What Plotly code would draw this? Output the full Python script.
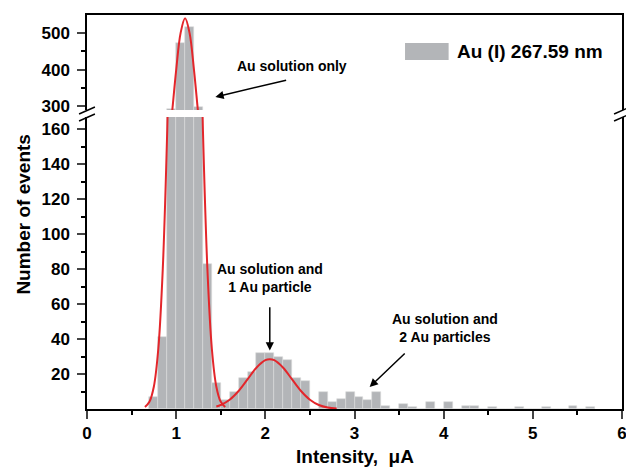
import plotly.graph_objects as go

# ---- data ----
bin_centers = [0.75, 0.85, 0.95, 1.05, 1.15, 1.25, 1.35, 1.45, 1.55, 1.65,
               1.75, 1.85, 1.95, 2.05, 2.15, 2.25, 2.35, 2.45, 2.55, 2.65,
               2.75, 2.85, 2.95, 3.05, 3.15, 3.25, 3.35, 3.45, 3.55, 3.65,
               3.75, 3.85, 3.95, 4.05, 4.15, 4.25, 4.35, 4.45, 4.55, 4.65,
               4.75, 4.85, 4.95, 5.05, 5.15, 5.25, 5.35, 5.45, 5.55, 5.65]
counts = [7, 41, 292, 473, 518, 298, 83, 15, 5, 10,
          18, 21, 32, 32, 30, 28, 18, 16, 0, 10,
          4, 6, 10, 7, 5, 10, 2, 0, 3, 1,
          0, 4, 0, 4, 0, 2, 2, 0, 1, 0,
          0, 1, 0, 0, 1, 0, 0, 2, 0, 1]

fit1_x = [0.65, 0.70, 0.75, 0.80, 0.85, 0.90, 0.95, 1.00, 1.05, 1.10,
          1.15, 1.20, 1.25, 1.30, 1.35, 1.40, 1.45, 1.50, 1.55]
fit1_y = [1.1, 4.1, 12.9, 34.6, 80.3, 159.6, 272.3, 398.8, 501, 541,
          501, 398.8, 272.3, 159.6, 80.3, 34.6, 12.9, 4.1, 1.1]

fit2_x = [1.45, 1.50, 1.60, 1.70, 1.80, 1.90, 2.00, 2.05, 2.10, 2.20,
          2.30, 2.40, 2.50, 2.60, 2.70, 2.80]
fit2_y = [1.4, 2.3, 5.3, 10.3, 16.9, 23.6, 27.9, 28.5, 27.9, 23.6,
          16.9, 10.3, 5.3, 2.3, 0.84, 0.25]

x_ticks = [0, 1, 2, 3, 4, 5, 6]
y_low_ticks = [20, 40, 60, 80, 100, 120, 140, 160]
y_up_ticks = [300, 400, 500]
legend_label = "Au (I) 267.59 nm"

# ---- styling ----
BAR = "#b3b5b8"
RED = "#e3262b"
FONT = "Liberation Sans, Arial, sans-serif"

OFF = 8                      # page body margin
SW, SH = 634, 467            # screenshot size
W, H = SW - OFF, SH - OFF    # figure size
PL, PR, PT, PB = 87, 627, 15, 409   # plot area in screenshot pixels
L, R, T, B = PL - OFF, SW - PR, PT - OFF, SH - PB
PW, PH = PR - PL, PB - PT
low_top_px = 117
up_bot_px = 110


def py(ypx):
    return (PB - ypx) / PH


def px(xpx):
    return (xpx - PL) / PW


fig = go.Figure()

for ya, xa in (("y", "x"), ("y2", "x2")):
    fig.add_trace(go.Bar(x=bin_centers, y=counts, width=0.1,
                         marker=dict(color=BAR, line=dict(color="#dcdcdc", width=0.6)),
                         name=legend_label, showlegend=False,
                         xaxis=xa, yaxis=ya))
    fig.add_trace(go.Scatter(x=fit1_x, y=fit1_y, mode="lines",
                             line=dict(color=RED, width=2, shape="spline"),
                             showlegend=False, xaxis=xa, yaxis=ya))
fig.add_trace(go.Scatter(x=fit2_x, y=fit2_y, mode="lines",
                         line=dict(color=RED, width=2, shape="spline"),
                         showlegend=False, xaxis="x", yaxis="y"))

tickfont = dict(family=FONT, size=17, color="black", weight="bold")
axline = dict(showline=True, linecolor="black", linewidth=1.5, showgrid=False,
              zeroline=False)

fig.update_layout(
    width=W, height=H, margin=dict(l=L, r=R, t=T, b=B),
    paper_bgcolor="white", plot_bgcolor="white",
    bargap=0, barmode="overlay", showlegend=False,
    xaxis=dict(domain=[0, 1], range=[0, 6], anchor="y", tickmode="array",
               tickvals=x_ticks, ticks="outside", ticklen=8, tickwidth=1.5,
               tickfont=tickfont, mirror=False,
               minor=dict(tickvals=[0.5, 1.5, 2.5, 3.5, 4.5, 5.5], ticks="outside",
                          ticklen=4, tickwidth=1.5, tickcolor="black"),
               **axline),
    xaxis2=dict(domain=[0, 1], range=[0, 6], anchor="y2", matches="x", side="top",
                showticklabels=False, ticks="", **axline),
    yaxis=dict(domain=[0, py(low_top_px)], range=[0, 167], anchor="x",
               tickmode="array", tickvals=y_low_ticks, ticks="outside", ticklen=8,
               tickwidth=1.5, tickfont=tickfont, mirror=True, ticklabelstandoff=4,
               minor=dict(tickvals=[10, 30, 50, 70, 90, 110, 130, 150], ticks="outside",
                          ticklen=4, tickwidth=1.5, tickcolor="black"),
               **axline),
    yaxis2=dict(domain=[py(up_bot_px), 1], range=[289, 550], anchor="x2",
                tickmode="array", tickvals=y_up_ticks, ticks="outside", ticklen=8,
                tickwidth=1.5, tickfont=tickfont, mirror=True, ticklabelstandoff=4,
                minor=dict(tickvals=[350, 450], ticks="outside",
                           ticklen=4, tickwidth=1.5, tickcolor="black"),
                **axline),
)

# axis titles
fig.add_annotation(text="Number of events", xref="paper", yref="paper",
                   x=px(22), y=py(215), xanchor="center", yanchor="middle",
                   textangle=-90, showarrow=False,
                   font=dict(family=FONT, size=19, color="black", weight="bold"))
fig.add_annotation(text="Intensity,  μA", xref="paper", yref="paper",
                   x=px(357), y=py(457), xanchor="center", yanchor="middle",
                   showarrow=False,
                   font=dict(family=FONT, size=19, color="black", weight="bold"))

afont = dict(family=FONT, size=14, color="black", weight="bold")
fig.add_annotation(text="Au solution only", xref="x2", yref="y2", x=2.3, y=410,
                   showarrow=False, font=afont)
fig.add_annotation(text="", xref="x2", yref="y2", x=1.44, y=325,
                   axref="x2", ayref="y2", ax=2.25, ay=372,
                   showarrow=True, arrowhead=2, arrowsize=1.1, arrowwidth=1.5,
                   arrowcolor="black")
fig.add_annotation(text="Au solution and<br>1 Au particle", xref="x", yref="y",
                   x=2.05, y=75, showarrow=False, font=afont)
fig.add_annotation(text="", xref="x", yref="y", x=2.05, y=33.5,
                   axref="x", ayref="y", ax=2.05, ay=59,
                   showarrow=True, arrowhead=2, arrowsize=1.1, arrowwidth=1.5,
                   arrowcolor="black")
fig.add_annotation(text="Au solution and<br>2 Au particles", xref="x", yref="y",
                   x=4.02, y=46.5, showarrow=False, font=afont)
fig.add_annotation(text="", xref="x", yref="y", x=3.17, y=12.6,
                   axref="x", ayref="y", ax=3.58, ay=32.6,
                   showarrow=True, arrowhead=2, arrowsize=1.1, arrowwidth=1.5,
                   arrowcolor="black")

# legend (manual)
fig.add_shape(type="rect", xref="paper", yref="paper",
              x0=px(408), x1=px(452), y0=py(60), y1=py(43),
              fillcolor=BAR, line=dict(width=0))
fig.add_annotation(text=legend_label, xref="paper", yref="paper",
                   x=px(458), y=py(51.5), xanchor="left", yanchor="middle",
                   showarrow=False,
                   font=dict(family=FONT, size=19, color="black", weight="bold"))

# axis break marks
for cx in (PL, PR):
    for dy in (0, 7):
        fig.add_shape(type="line", xref="paper", yref="paper",
                      x0=px(cx - 8), y0=py(114 + dy), x1=px(cx + 8), y1=py(107 + dy),
                      line=dict(color="black", width=1.5))

fig.write_html("out.html")
